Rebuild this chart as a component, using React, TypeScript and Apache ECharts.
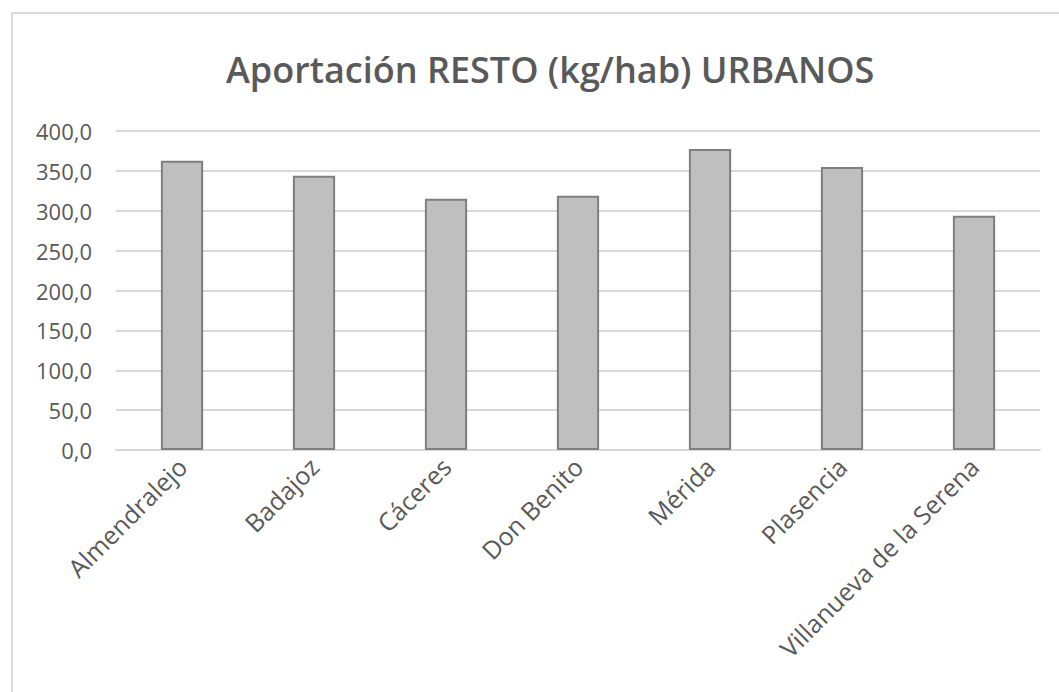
import React, { useEffect, useRef } from "react";
import * as echarts from "echarts";

const categories = ["Almendralejo", "Badajoz", "Cáceres", "Don Benito", "Mérida", "Plasencia", "Villanueva de la Serena"];
const values = [362.8, 344.0, 315.2, 318.9, 377.4, 354.9, 293.8];
const titleText = "Aportación RESTO (kg/hab) URBANOS";

export default function App() {
  const ref = useRef<HTMLDivElement>(null);
  useEffect(() => {
    document.body.style.margin = "0";
    const chart = echarts.init(ref.current!, null, { renderer: "svg" });
    chart.setOption({
      animation: false,
      backgroundColor: "#ffffff",
      title: {
        text: titleText,
        left: 221,
        top: 46,
        textStyle: { fontFamily: "Open Sans", fontSize: 36, fontWeight: 600, color: "#595959" },
      },
      graphic: [
        {
          type: "rect",
          shape: { x: 12, y: 13, width: 1100, height: 700 },
          style: { fill: "none", stroke: "#d9d9d9", lineWidth: 2 },
          silent: true,
        },
      ],
      grid: { left: 116, right: 19, top: 131, bottom: 242, containLabel: false },
      xAxis: {
        type: "category",
        data: categories,
        axisLine: { lineStyle: { color: "#d9d9d9", width: 2 } },
        axisTick: { show: false },
        axisLabel: {
          rotate: 45,
          interval: 0,
          margin: 12,
          color: "#595959",
          fontFamily: "Open Sans",
          fontSize: 25,
        },
      },
      yAxis: {
        type: "value",
        min: 0,
        max: 400,
        interval: 50,
        axisLine: { show: false },
        axisTick: { show: false },
        splitLine: { lineStyle: { color: "#d9d9d9", width: 2 } },
        axisLabel: {
          margin: 24,
          color: "#595959",
          fontFamily: "Open Sans",
          fontSize: 22,
          formatter: (v: number) => v.toFixed(1).replace(".", ","),
        },
      },
      series: [
        {
          type: "bar",
          data: values,
          barWidth: "32%",
          itemStyle: { color: "#bfbfbf", borderColor: "#7f7f7f", borderWidth: 2 },
        },
      ],
    });
    return () => chart.dispose();
  }, []);
  return <div ref={ref} style={{ position: "absolute", left: 0, top: 0, width: 1059, height: 692 }} />;
}
